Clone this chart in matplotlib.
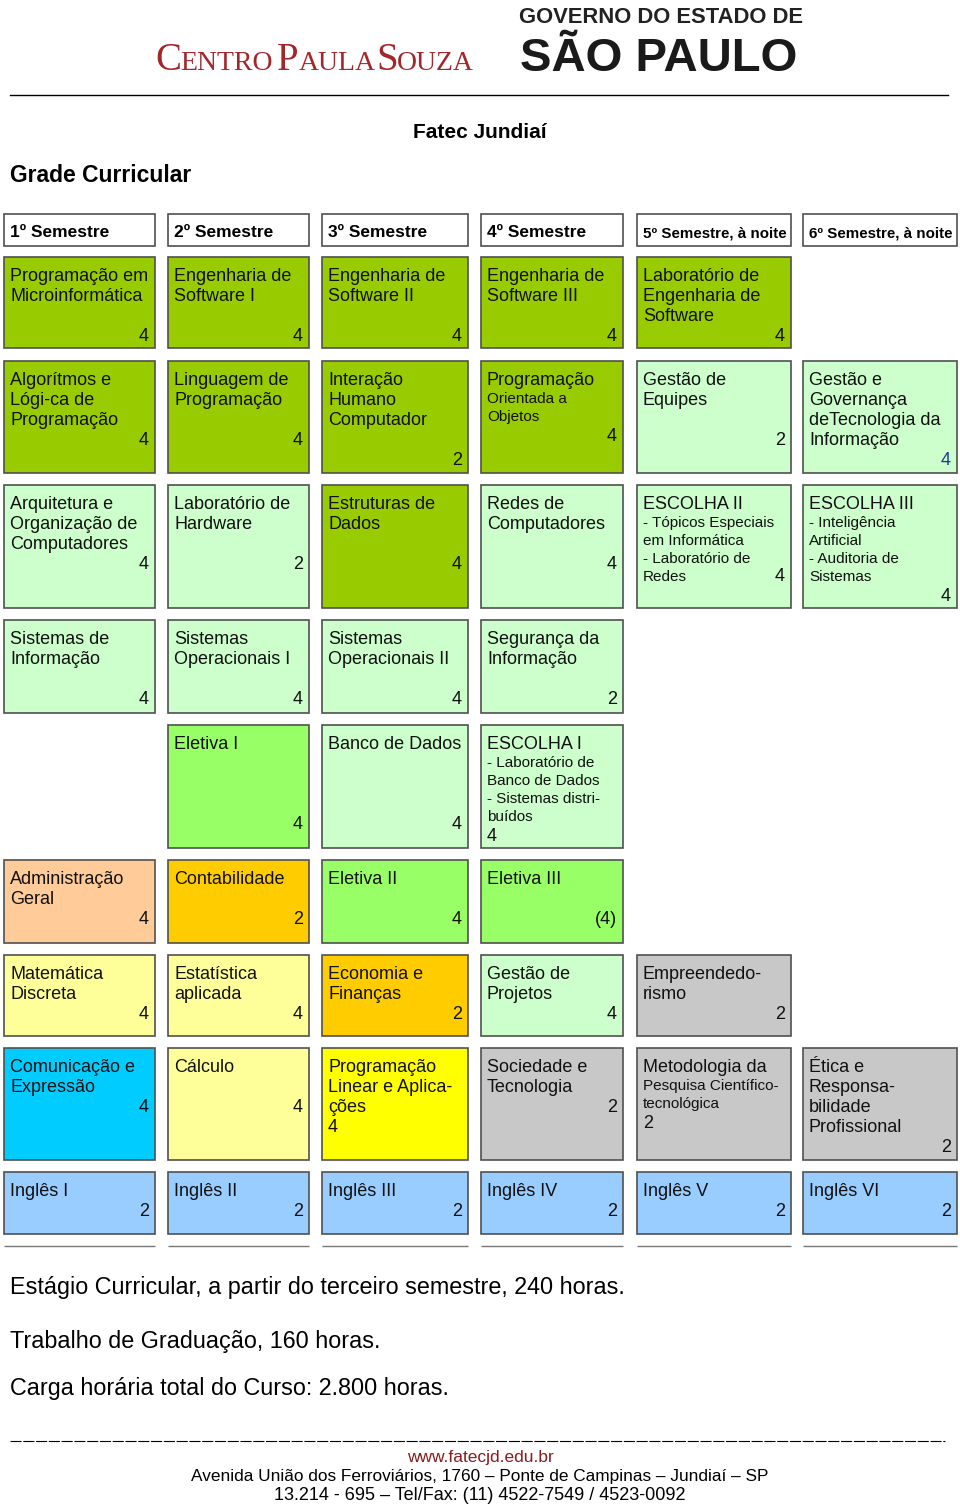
# Grade curricular - Fatec Jundiaí

import matplotlib.pyplot as plt
from matplotlib.patches import Rectangle

plt.rcParams['font.family'] = ['Liberation Sans', 'DejaVu Sans']

# semestres (cabeçalho)
semestres = ["1º Semestre", "2º Semestre", "3º Semestre", "4º Semestre",
             "5º Semestre, à noite", "6º Semestre, à noite"]

# disciplinas: linha, coluna, nome, detalhe (fonte menor), créditos, grupo de cor
linha = [0, 0, 0, 0, 0,
         1, 1, 1, 1, 1, 1,
         2, 2, 2, 2, 2, 2,
         3, 3, 3, 3,
         4, 4, 4,
         5, 5, 5, 5,
         6, 6, 6, 6, 6,
         7, 7, 7, 7, 7, 7,
         8, 8, 8, 8, 8, 8]
coluna = [0, 1, 2, 3, 4,
          0, 1, 2, 3, 4, 5,
          0, 1, 2, 3, 4, 5,
          0, 1, 2, 3,
          1, 2, 3,
          0, 1, 2, 3,
          0, 1, 2, 3, 4,
          0, 1, 2, 3, 4, 5,
          0, 1, 2, 3, 4, 5]
nome = ["Programação em\nMicroinformática", "Engenharia de\nSoftware I",
        "Engenharia de\nSoftware II", "Engenharia de\nSoftware III",
        "Laboratório de\nEngenharia de\nSoftware",
        "Algorítmos e\nLógi-ca de\nProgramação", "Linguagem de\nProgramação",
        "Interação\nHumano\nComputador", "Programação", "Gestão de\nEquipes",
        "Gestão e\nGovernança\ndeTecnologia da\nInformação",
        "Arquitetura e\nOrganização de\nComputadores", "Laboratório de\nHardware",
        "Estruturas de\nDados", "Redes de\nComputadores", "ESCOLHA II", "ESCOLHA III",
        "Sistemas de\nInformação", "Sistemas\nOperacionais I",
        "Sistemas\nOperacionais II", "Segurança da\nInformação",
        "Eletiva I", "Banco de Dados", "ESCOLHA I",
        "Administração\nGeral", "Contabilidade", "Eletiva II", "Eletiva III",
        "Matemática\nDiscreta", "Estatística\naplicada", "Economia e\nFinanças",
        "Gestão de\nProjetos", "Empreendedo-\nrismo",
        "Comunicação e\nExpressão", "Cálculo", "Programação\nLinear e Aplica-\nções",
        "Sociedade e\nTecnologia", "Metodologia da",
        "Ética e\nResponsa-\nbilidade\nProfissional",
        "Inglês I", "Inglês II", "Inglês III", "Inglês IV", "Inglês V", "Inglês VI"]
detalhe = ["", "", "", "", "",
           "", "", "", "Orientada a\nObjetos", "", "",
           "", "", "", "", "- Tópicos Especiais\nem Informática\n- Laboratório de\nRedes",
           "- Inteligência\nArtificial\n- Auditoria de\nSistemas",
           "", "", "", "",
           "", "", "- Laboratório de\nBanco de Dados\n- Sistemas distri-\nbuídos",
           "", "", "", "",
           "", "", "", "", "",
           "", "", "", "", "Pesquisa Científico-\ntecnológica", "",
           "", "", "", "", "", ""]
creditos = ["4", "4", "4", "4", "4",
            "4", "4", "2", "4", "2", "4",
            "4", "2", "4", "4", "4", "4",
            "4", "4", "4", "2",
            "4", "4", "4",
            "4", "2", "4", "(4)",
            "4", "4", "2", "4", "2",
            "4", "4", "4", "2", "2", "2",
            "2", "2", "2", "2", "2", "2"]
grupo = ["dg", "dg", "dg", "dg", "dg",
         "dg", "dg", "dg", "dg", "lg", "lg",
         "lg", "lg", "dg", "lg", "lg", "lg",
         "lg", "lg", "lg", "lg",
         "bg", "lg", "lg",
         "peach", "orange", "bg", "bg",
         "ly", "ly", "orange", "lg", "gray",
         "cyan", "ly", "yellow", "gray", "gray", "gray",
         "blue", "blue", "blue", "blue", "blue", "blue"]

rodape_texto = ["Estágio Curricular, a partir do terceiro semestre, 240 horas.",
                "Trabalho de Graduação, 160 horas.",
                "Carga horária total do Curso: 2.800 horas."]

# layout da página (pixels)
col_esq = [4, 168, 322, 481, 637, 803]
col_dir = [155, 309, 468, 623, 791, 957]
lin_topo = [257, 361, 485, 620, 725, 860, 955, 1048, 1172]
lin_base = [348, 473, 608, 713, 848, 943, 1036, 1160, 1234]
# em qual linha de texto fica o número de créditos
pos_credito = [3, 3, 3, 3, 3,
               3, 3, 4, 3, 3, 4,
               3, 3, 3, 3, 4, 5,
               3, 3, 3, 3,
               4, 4, 5,
               2, 2, 2, 2,
               2, 2, 2, 2, 2,
               2, 2, 3, 2, 3, 4,
               1, 1, 1, 1, 1, 1]
credito_esquerda = [23, 35, 37]  # índices com número alinhado à esquerda

cores = {"dg": "#99CC00", "lg": "#CCFFCC", "bg": "#99FF66", "peach": "#FFCC99",
         "orange": "#FFCC00", "ly": "#FFFF99", "yellow": "#FFFF00",
         "cyan": "#00CCFF", "gray": "#C8C8C8", "blue": "#99CCFF"}

fig = plt.figure(figsize=(9.6, 15.04), dpi=100)
ax = fig.add_axes([0, 0, 1, 1])
ax.set_xlim(0, 960)
ax.set_ylim(1504, 0)
ax.axis('off')

# logos
vermelho = "#A3262B"
for txt, fs, x in [("C", 28, 155), ("ENTRO", 20, 180), ("P", 28, 277),
                   ("AULA", 20, 299), ("S", 28, 376), ("OUZA", 20, 397)]:
    ax.text(x, 70, txt, fontsize=fs, color=vermelho, family='Liberation Serif',
            va='baseline', ha='left')
ax.text(661, 23, "GOVERNO DO ESTADO DE", fontsize=15.8, fontweight='bold',
        va='baseline', ha='center', color='#222222')
ax.text(659, 71, "SÃO PAULO", fontsize=34, fontweight='bold',
        va='baseline', ha='center', color='#1a1a1a')
ax.plot([10, 948], [95, 95], color='black', lw=1)

ax.text(480, 138, "Fatec Jundiaí", fontsize=15, fontweight='bold',
        ha='center', va='baseline')
ax.text(10, 182, "Grade Curricular", fontsize=16.5, fontweight='bold',
        ha='left', va='baseline')

# cabeçalho dos semestres
for j, s in enumerate(semestres):
    ax.add_patch(Rectangle((col_esq[j], 214), col_dir[j] - col_esq[j], 32,
                           facecolor='white', edgecolor='#505050', lw=1.2))
    fs = 10.9 if j >= 4 else 12.5
    ax.text(col_esq[j] + 6, 237, s, fontsize=fs, fontweight='bold',
            va='baseline', ha='left')

# disciplinas
for k in range(len(nome)):
    r, c = linha[k], coluna[k]
    x0, x1 = col_esq[c], col_dir[c]
    y0, y1 = lin_topo[r], lin_base[r]
    ax.add_patch(Rectangle((x0, y0), x1 - x0, y1 - y0,
                           facecolor=cores[grupo[k]], edgecolor='#505050', lw=1.2))
    linhas = [(t, 13) for t in nome[k].split("\n")]
    if detalhe[k]:
        linhas += [(t, 11) for t in detalhe[k].split("\n")]
    y = y0 + 24
    bases = []
    for i, (t, fs) in enumerate(linhas):
        if i > 0:
            y += 20 if fs == 13 else 18
        ax.text(x0 + 6, y, t, fontsize=fs, va='baseline', ha='left', color='#111111')
        bases.append(y)
    p = pos_credito[k]
    if p < len(bases):
        yc = bases[p]
    else:
        yc = bases[-1] + 20 * (p - len(bases) + 1)
    cor_num = '#1F3A93' if k == 10 else '#111111'
    if k in credito_esquerda:
        ax.text(x0 + 6, yc, creditos[k], fontsize=13, va='baseline', ha='left', color=cor_num)
    else:
        ax.text(x1 - 6, yc, creditos[k], fontsize=13, va='baseline', ha='right', color=cor_num)

# linhas finais sob as colunas
ax.hlines([1246] * 6, col_esq, col_dir, color='#777777', lw=1)

for t, y in zip(rodape_texto, [1294, 1348, 1395]):
    ax.text(10, y, t, fontsize=16.8, ha='left', va='baseline')

# rodapé
ax.plot([10, 945], [1441, 1441], color='black', lw=0.8, linestyle=(0, (10, 1.5)))
ax.text(480, 1462, "www.fatecjd.edu.br", fontsize=12.5, color='#8B1A1A',
        ha='center', va='baseline')
ax.text(480, 1481, "Avenida União dos Ferroviários, 1760 – Ponte de Campinas – Jundiaí – SP",
        fontsize=12.4, ha='center', va='baseline')
ax.text(480, 1500, "13.214 - 695 – Tel/Fax: (11) 4522-7549 / 4523-0092",
        fontsize=13, ha='center', va='baseline')

plt.savefig("out.png", dpi=100)
